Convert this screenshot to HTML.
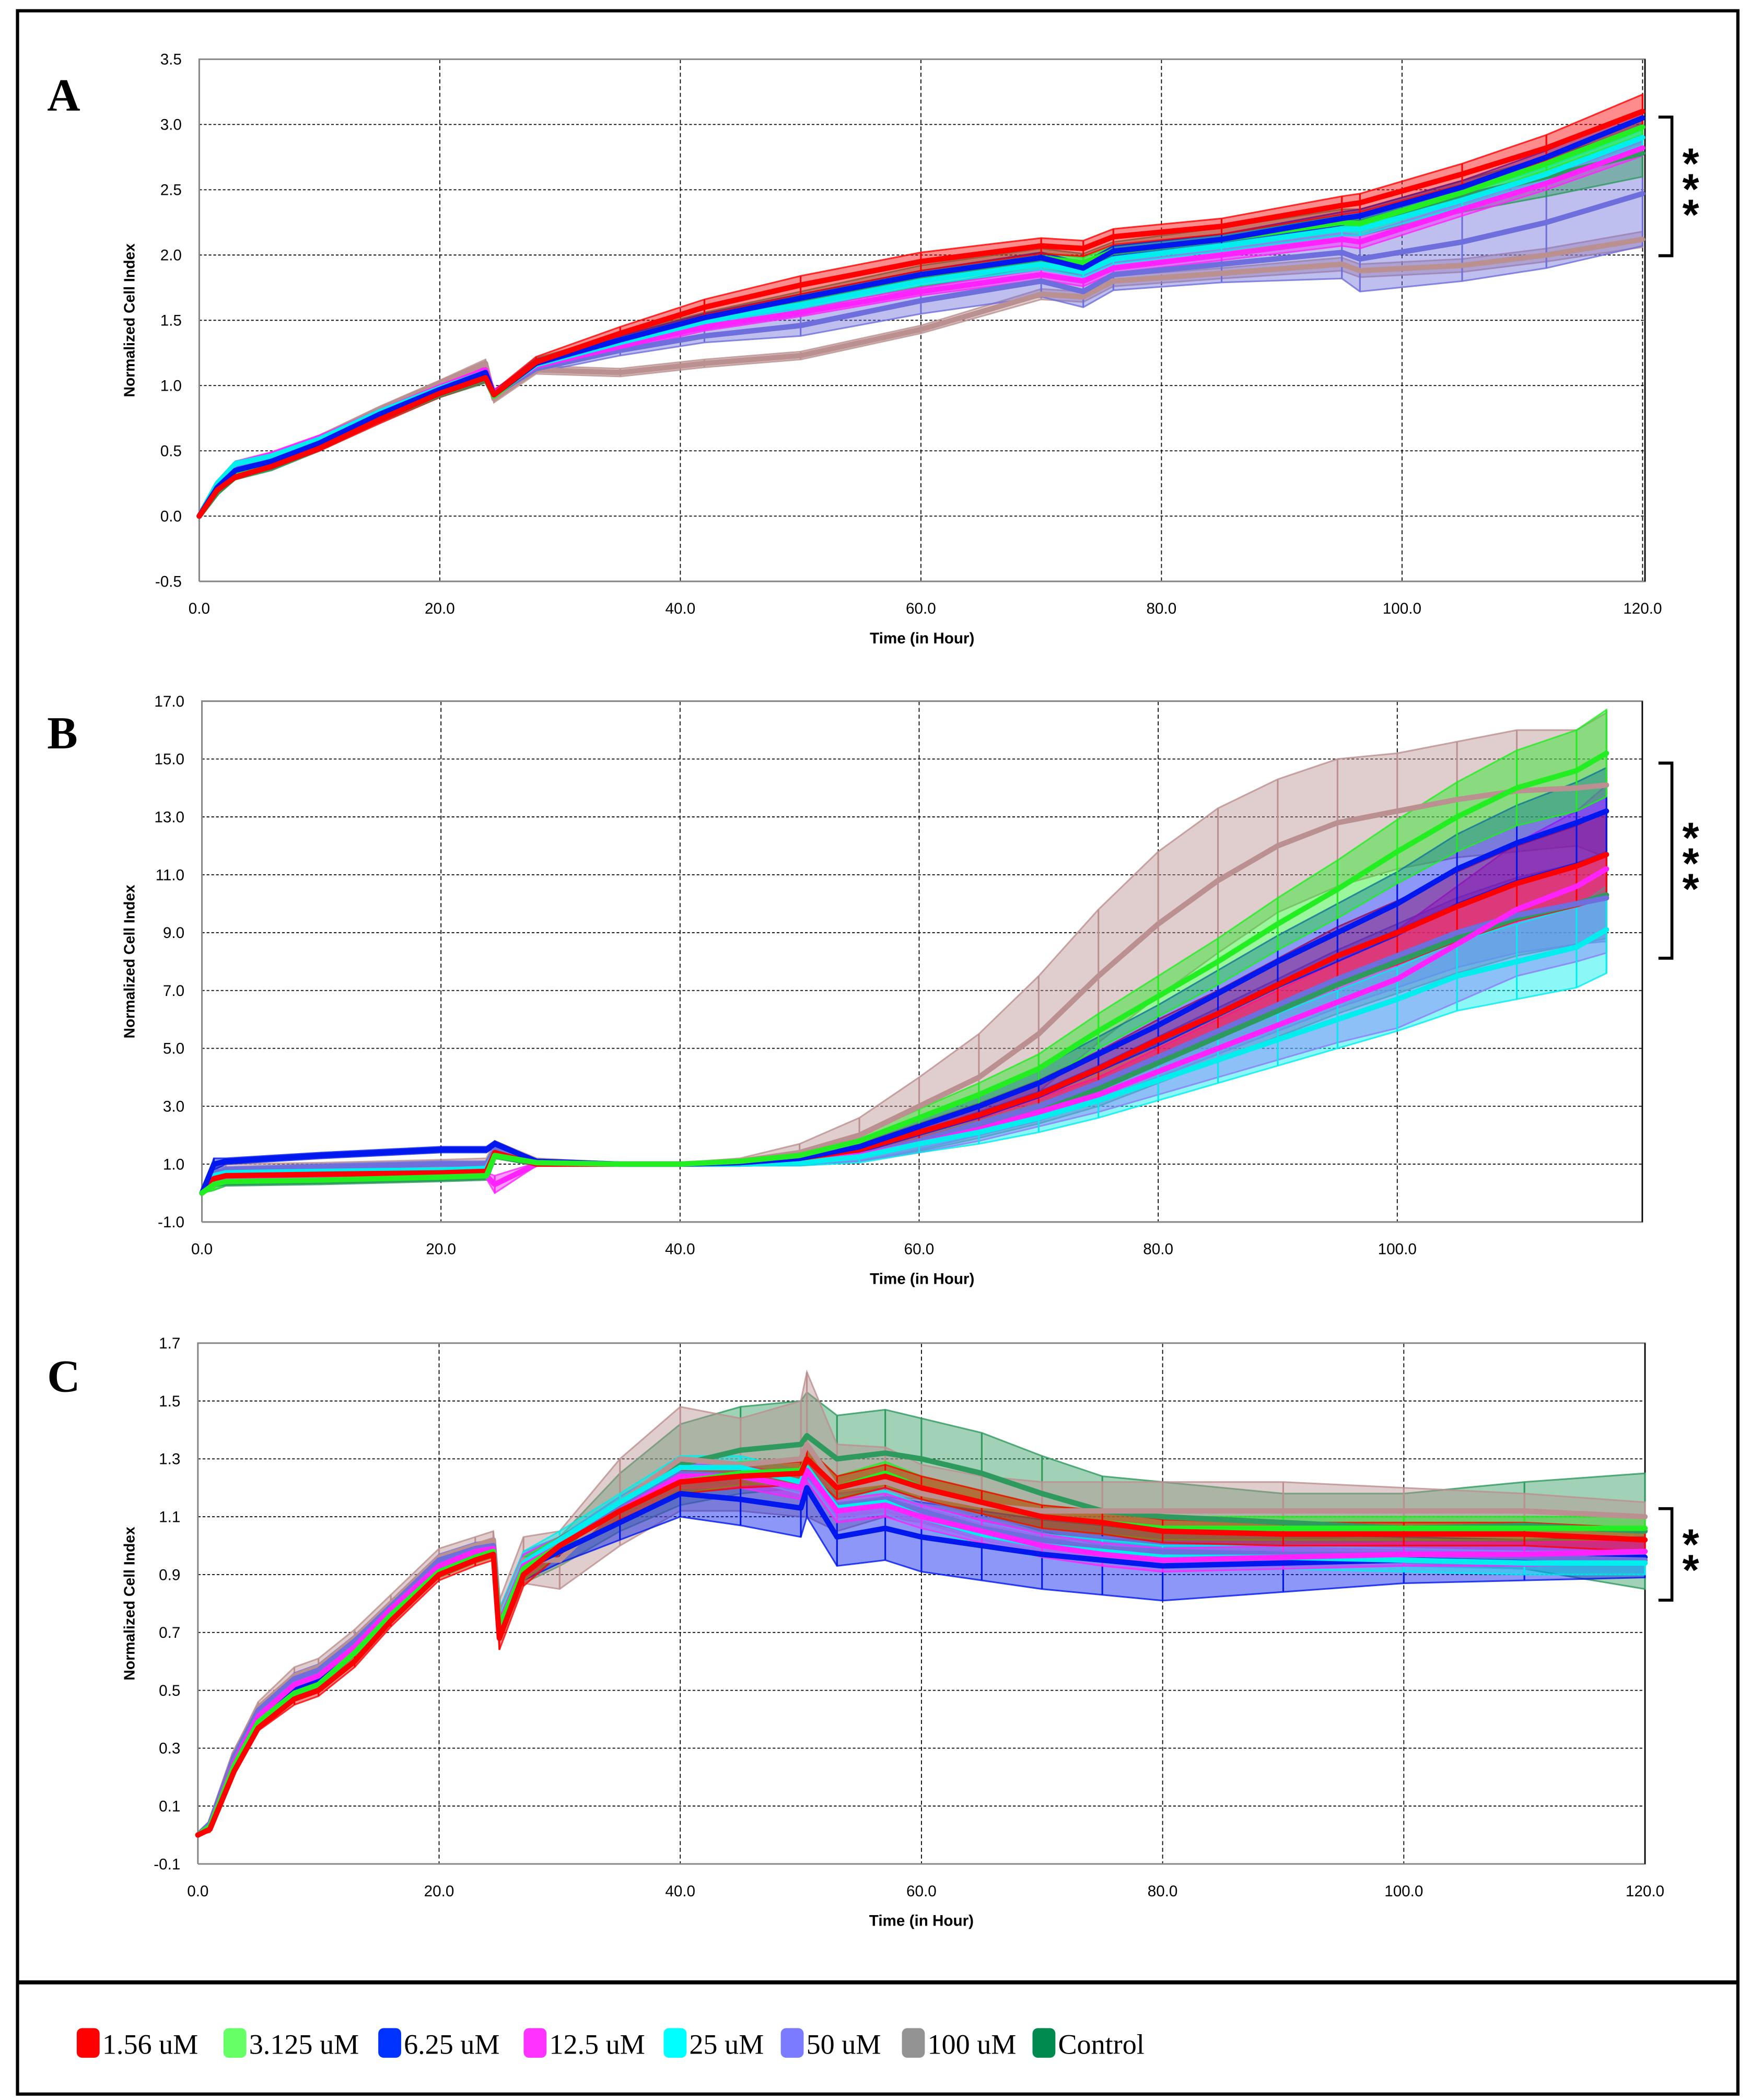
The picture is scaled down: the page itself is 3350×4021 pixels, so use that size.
<!DOCTYPE html>
<html><head><meta charset="utf-8"><style>
html,body{margin:0;padding:0;background:#fff;}
svg{display:block;}
</style></head><body>
<svg id="fig" width="3350" height="4021" viewBox="0 0 1300 1560.4" xmlns="http://www.w3.org/2000/svg">
<rect x="0" y="0" width="1300" height="1561" fill="#fff"/>
<rect x="13" y="8" width="1278" height="1548" fill="none" stroke="#000" stroke-width="2.4"/>
<line x1="13" y1="1473" x2="1291" y2="1473" stroke="#000" stroke-width="3"/>
<g id="panels"></g>
<g id="legend" font-family="Liberation Serif, serif" font-size="21"></g>
</svg>
<script>
// ---------- Panel A data ----------
const timesA=[0,1.5,3,6,10,15,20,23.8,24.5,28,35,42,50,60,70,73.5,76,85,95,96.5,105,112,120];
const A_red=[0,0.2,0.3,0.38,0.52,0.74,0.94,1.06,0.93,1.18,1.4,1.6,1.77,1.95,2.07,2.05,2.14,2.22,2.38,2.4,2.62,2.82,3.1];
const A_green=[0,0.2,0.32,0.4,0.54,0.76,0.95,1.07,0.92,1.17,1.35,1.52,1.67,1.85,1.98,1.94,2.03,2.12,2.25,2.24,2.48,2.7,2.98];
const A_blue=[0,0.22,0.35,0.42,0.56,0.78,0.97,1.1,0.93,1.17,1.35,1.52,1.67,1.85,1.98,1.9,2.03,2.12,2.28,2.3,2.52,2.75,3.05];
const A_mag=[0,0.25,0.4,0.47,0.6,0.8,0.99,1.12,0.94,1.15,1.3,1.45,1.56,1.72,1.85,1.8,1.9,2.0,2.12,2.1,2.35,2.55,2.82];
const A_cyan=[0,0.25,0.4,0.46,0.59,0.8,0.98,1.1,0.93,1.16,1.33,1.49,1.62,1.8,1.93,1.87,1.97,2.07,2.2,2.2,2.42,2.62,2.9];
const A_p50=[0,0.24,0.39,0.45,0.58,0.79,0.98,1.12,0.93,1.13,1.27,1.38,1.46,1.65,1.8,1.72,1.85,1.93,2.02,1.97,2.1,2.25,2.47];
const A_g100=[0,0.2,0.34,0.44,0.6,0.82,1.02,1.17,0.9,1.12,1.1,1.17,1.23,1.43,1.7,1.68,1.8,1.86,1.93,1.88,1.92,2.0,2.12];
const A_ctrl=[0,0.18,0.3,0.37,0.52,0.74,0.93,1.05,0.92,1.17,1.34,1.5,1.65,1.84,1.97,1.93,2.02,2.12,2.25,2.25,2.45,2.6,2.78];
const A_errRed=[0,0.01,0.02,0.02,0.02,0.03,0.03,0.03,0.03,0.04,0.05,0.06,0.07,0.07,0.06,0.06,0.06,0.06,0.07,0.07,0.08,0.1,0.13];
const A_errSmall=[0,0.01,0.02,0.02,0.02,0.02,0.02,0.03,0.03,0.03,0.03,0.03,0.03,0.03,0.04,0.04,0.04,0.04,0.05,0.05,0.05,0.05,0.06];
const A_errP50=[0,0.01,0.02,0.02,0.02,0.02,0.02,0.03,0.03,0.03,0.04,0.05,0.08,0.1,0.12,0.12,0.12,0.14,0.2,0.25,0.3,0.35,0.4];
const A_errCtrl=[0,0.01,0.02,0.02,0.02,0.02,0.02,0.03,0.03,0.04,0.05,0.06,0.07,0.08,0.08,0.08,0.08,0.09,0.1,0.1,0.12,0.15,0.18];
// ---------- Panel B data ----------
const timesB=[0,1,2,10,20,23.8,24.5,28,35,40,45,50,55,60,65,70,75,80,85,90,95,100,105,110,115,117.5];
const B_g100=[0,0.6,0.7,0.75,0.85,0.9,1.5,1.1,1.0,1.0,1.1,1.4,2.0,3.0,4.0,5.5,7.5,9.3,10.8,12.0,12.8,13.2,13.6,13.9,14.0,14.1];
const B_green=[0,0.3,0.4,0.45,0.55,0.6,1.3,1.05,1.0,1.0,1.1,1.3,1.8,2.6,3.4,4.3,5.6,6.8,8.0,9.3,10.5,11.8,13.0,14.0,14.6,15.2];
const B_blue=[0,1.0,1.1,1.3,1.5,1.5,1.7,1.1,1.0,1.0,1.05,1.2,1.6,2.3,3.0,3.8,4.8,5.8,6.9,8.0,9.0,10.0,11.2,12.1,12.8,13.2];
const B_red=[0,0.5,0.6,0.65,0.7,0.75,1.4,1.0,1.0,1.0,1.05,1.2,1.5,2.1,2.7,3.4,4.3,5.3,6.2,7.2,8.2,9.0,9.9,10.7,11.3,11.7];
const B_mag=[0,0.4,0.5,0.55,0.6,0.6,0.3,1.0,1.0,1.0,1.0,1.1,1.3,1.7,2.2,2.8,3.4,4.2,5.0,5.8,6.6,7.4,8.6,9.8,10.6,11.2];
const B_cyan=[0,0.6,0.7,0.75,0.8,0.85,1.4,1.0,1.0,1.0,1.0,1.05,1.25,1.7,2.1,2.6,3.2,3.9,4.6,5.3,6.0,6.7,7.5,8.0,8.5,9.1];
const B_p50=[0,0.7,0.8,0.9,1.0,1.0,1.5,1.05,1.0,1.0,1.0,1.05,1.3,1.8,2.4,3.0,3.8,4.7,5.6,6.5,7.4,8.2,9.0,9.6,10.0,10.2];
const B_ctrl=[0,0.3,0.35,0.4,0.5,0.55,1.3,1.0,1.0,1.0,1.0,1.05,1.3,1.75,2.3,2.9,3.6,4.5,5.4,6.3,7.2,8.0,8.8,9.5,10.0,10.3];
const B_errG100=[0,0.3,0.3,0.3,0.3,0.3,0.3,0.1,0.05,0.05,0.1,0.3,0.6,1.0,1.5,2.0,2.3,2.5,2.5,2.3,2.2,2.0,2.0,2.1,2.0,2.5];
const B_errMid=[0,0.2,0.1,0.1,0.1,0.1,0.1,0.05,0.05,0.05,0.05,0.1,0.2,0.3,0.4,0.5,0.6,0.7,0.8,0.9,1.0,1.1,1.2,1.3,1.4,1.5];
const B_errMag=[0,0.2,0.1,0.1,0.1,0.1,0.3,0.05,0.05,0.05,0.05,0.1,0.2,0.3,0.4,0.5,0.6,0.8,1.0,1.2,1.4,1.7,2.0,2.3,2.6,2.9];
// ---------- Panel C data ----------
const timesC=[0,1,3,5,8,10,13,16,20,23,24.5,25,27,30,35,40,45,50,50.5,53,57,60,65,70,75,80,90,100,110,120];
const C_red=[0,0.02,0.22,0.37,0.47,0.5,0.6,0.74,0.9,0.95,0.97,0.68,0.9,1.0,1.12,1.22,1.24,1.25,1.3,1.2,1.24,1.2,1.15,1.1,1.08,1.05,1.04,1.04,1.04,1.02];
const C_green=[0,0.03,0.24,0.39,0.49,0.52,0.63,0.76,0.91,0.96,0.98,0.72,0.92,1.0,1.12,1.22,1.25,1.26,1.3,1.2,1.25,1.2,1.15,1.1,1.08,1.06,1.06,1.06,1.06,1.06];
const C_blue=[0,0.03,0.25,0.4,0.5,0.53,0.64,0.77,0.92,0.97,0.98,0.72,0.92,0.98,1.08,1.18,1.16,1.13,1.2,1.03,1.06,1.03,1.0,0.97,0.95,0.93,0.94,0.95,0.95,0.96];
const C_mag=[0,0.03,0.25,0.41,0.52,0.55,0.65,0.78,0.93,0.98,0.99,0.73,0.93,1.0,1.12,1.24,1.24,1.2,1.26,1.12,1.14,1.1,1.05,1.0,0.97,0.95,0.96,0.97,0.97,0.98];
const C_cyan=[0,0.03,0.25,0.41,0.52,0.55,0.65,0.78,0.93,0.98,0.99,0.74,0.94,1.02,1.15,1.27,1.27,1.22,1.27,1.13,1.15,1.1,1.04,1.0,0.98,0.96,0.96,0.95,0.94,0.94];
const C_p50=[0,0.04,0.27,0.43,0.54,0.57,0.67,0.79,0.95,0.99,1.0,0.74,0.94,1.0,1.14,1.25,1.24,1.2,1.25,1.14,1.16,1.12,1.06,1.02,0.99,0.98,0.97,0.97,0.96,0.95];
const C_g100=[0,0.04,0.28,0.44,0.55,0.58,0.68,0.8,0.96,1.0,1.02,0.75,0.95,0.95,1.15,1.3,1.28,1.3,1.35,1.2,1.22,1.18,1.14,1.12,1.12,1.12,1.12,1.12,1.12,1.1];
const C_ctrl=[0,0.03,0.24,0.4,0.5,0.53,0.64,0.77,0.92,0.97,0.98,0.72,0.92,0.98,1.15,1.28,1.33,1.35,1.38,1.3,1.32,1.3,1.25,1.18,1.12,1.1,1.08,1.06,1.07,1.05];
const C_errSmall=[0,0.01,0.01,0.01,0.02,0.02,0.02,0.02,0.02,0.02,0.02,0.04,0.04,0.03,0.03,0.04,0.04,0.04,0.04,0.04,0.04,0.04,0.04,0.04,0.04,0.04,0.04,0.04,0.04,0.04];
const C_errBlue=[0,0.01,0.01,0.01,0.02,0.02,0.02,0.02,0.02,0.02,0.02,0.04,0.04,0.04,0.06,0.08,0.09,0.1,0.1,0.1,0.11,0.12,0.12,0.12,0.12,0.12,0.1,0.08,0.07,0.07];
const C_errCtrl=[0,0.01,0.01,0.01,0.02,0.02,0.02,0.02,0.02,0.02,0.02,0.05,0.05,0.05,0.1,0.14,0.15,0.15,0.15,0.15,0.15,0.14,0.14,0.13,0.12,0.12,0.1,0.12,0.15,0.2];
const C_errG100=[0,0.01,0.01,0.02,0.03,0.03,0.03,0.03,0.03,0.03,0.03,0.06,0.08,0.1,0.15,0.18,0.16,0.2,0.25,0.15,0.12,0.1,0.1,0.1,0.1,0.1,0.1,0.08,0.06,0.05];
// ---------- legend ----------
const legendLabels=["1.56 uM","3.125 uM","6.25 uM","12.5 uM","25 uM","50 uM","100 uM","Control"];
const legendColors=["#ff0000","#66ff66","#0033ff","#ff33ff","#00ffff","#7b7bff","#939393","#008a4f"];

const NS="http://www.w3.org/2000/svg";
function mk(tag,attrs,parent){const e=document.createElementNS(NS,tag);for(const k in attrs)e.setAttribute(k,attrs[k]);parent.appendChild(e);return e;}

const seriesColor={red:"#ff0000",green:"#22ee22",blue:"#0018ee",mag:"#ff22ff",cyan:"#00eeee",p50:"#6e6edc",g100:"#bb9090",ctrl:"#2e9a5e"};

const panels=[
 {id:"a",letter:"A",l:148,r:1222,t:44,b:432,xmax:120.2,ymin:-0.5,ymax:3.5,ystep:0.5,dec:1,xticks:[0,20,40,60,80,100,120],times:timesA,
  series:[["g100",A_g100,A_errSmall],["p50",A_p50,A_errP50],["ctrl",A_ctrl,A_errCtrl],["mag",A_mag,A_errSmall],["cyan",A_cyan,A_errSmall],["green",A_green,A_errSmall],["blue",A_blue,A_errSmall],["red",A_red,A_errRed]],
  bracket:[87,190],stars:"***",ly:82},
 {id:"b",letter:"B",l:150,r:1220,t:521,b:908,xmax:120.5,ymin:-1,ymax:17,ystep:2,dec:1,xticks:[0,20,40,60,80,100],times:timesB,
  series:[["g100",B_g100,B_errG100],["ctrl",B_ctrl,B_errMid],["p50",B_p50,B_errMid],["mag",B_mag,B_errMag],["cyan",B_cyan,B_errMid],["red",B_red,B_errMid],["blue",B_blue,B_errMid],["green",B_green,B_errMid]],
  bracket:[567,712],stars:"***",ly:556},
 {id:"c",letter:"C",l:147,r:1222,t:998,b:1385,xmax:120,ymin:-0.1,ymax:1.7,ystep:0.2,dec:1,xticks:[0,20,40,60,80,100,120],times:timesC,
  series:[["ctrl",C_ctrl,C_errCtrl],["g100",C_g100,C_errG100],["blue",C_blue,C_errBlue],["p50",C_p50,C_errSmall],["cyan",C_cyan,C_errSmall],["mag",C_mag,C_errSmall],["green",C_green,C_errSmall],["red",C_red,C_errSmall]],
  bracket:[1121,1189],stars:"**",ly:1034}
];

const root=document.getElementById('panels');
panels.forEach(p=>{
 const g=mk('g',{},root);
 
 
 const X=v=>p.l+(v/p.xmax)*(p.r-p.l);
 const Y=v=>p.b-(v-p.ymin)/(p.ymax-p.ymin)*(p.b-p.t);
 const lt=mk('text',{x:35,y:p.ly,'font-family':'Liberation Serif, serif','font-weight':'bold','font-size':34},g);
 lt.textContent=p.letter;
 
 
 const n=Math.round((p.ymax-p.ymin)/p.ystep);
 for(let i=0;i<=n;i++){
  const v=p.ymin+i*p.ystep;const y=Y(v);
  if(i>0&&i<n){const gl=mk('line',{x1:p.l,x2:p.r,y1:y,y2:y,stroke:'#000','stroke-width':0.7,'stroke-dasharray':'2,1.5'},g);
   }
  const t=mk('text',{x:p.l-13,y:y+4,'text-anchor':'end','font-family':'Liberation Sans, sans-serif','font-size':11.5},g);
  t.textContent=v.toFixed(p.dec);
  
 }
 p.xticks.forEach(v=>{
  const x=X(v);
  if(v>0){const gl=mk('line',{x1:x,x2:x,y1:p.t,y2:p.b,stroke:'#000','stroke-width':0.7,'stroke-dasharray':'3,2'},g);
   }
  const t=mk('text',{x:x,y:p.b+24,'text-anchor':'middle','font-family':'Liberation Sans, sans-serif','font-size':11.5},g);
  t.textContent=v.toFixed(1);
  
 });
 const frame=mk('path',{d:`M${p.l},${p.b}V${p.t}H${p.r}V${p.b}H${p.l}`,fill:'none',stroke:'#888','stroke-width':1.2},g);
 
 const rl=mk('line',{x1:p.r,x2:p.r,y1:p.t,y2:p.b,stroke:'#000','stroke-width':1},g);
 
 const xt=mk('text',{x:(p.l+p.r)/2,y:p.b+46,'text-anchor':'middle','font-family':'Liberation Sans, sans-serif','font-weight':'bold','font-size':11.5},g);
 xt.textContent='Time (in Hour)';
 
 const ymid=(p.t+p.b)/2;
 const yt=mk('text',{x:100,y:ymid,transform:`rotate(-90 100 ${ymid})`,'text-anchor':'middle','font-family':'Liberation Sans, sans-serif','font-weight':'bold','font-size':11},g);
 yt.textContent='Normalized Cell Index';
 
 p.series.forEach(([key,vals,err])=>{
  const up=vals.map((v,i)=>X(p.times[i])+','+Y(v+err[i]));
  const dn=vals.map((v,i)=>X(p.times[i])+','+Y(v-err[i])).reverse();
  const band=mk('polygon',{points:up.concat(dn).join(' '),fill:seriesColor[key],'fill-opacity':0.45,stroke:seriesColor[key],'stroke-width':1.2,'stroke-opacity':0.8},g);
  
  vals.forEach((v,i)=>{
   const x=X(p.times[i]);
   const eb=mk('line',{x1:x,x2:x,y1:Y(v-err[i]),y2:Y(v+err[i]),stroke:seriesColor[key],'stroke-width':1.2},g);
   
  });
 });
 p.series.forEach(([key,vals])=>{
  const pts=vals.map((v,i)=>X(p.times[i])+','+Y(v)).join(' ');
  const pl=mk('polyline',{points:pts,fill:'none',stroke:seriesColor[key],'stroke-width':4,'stroke-linejoin':'round','stroke-linecap':'round'},g);
  
 });
 const [b0,b1]=p.bracket;
 const br=mk('path',{d:`M1232,${b0}H1242V${b1}H1232`,fill:'none',stroke:'#000','stroke-width':2.2},g);
 
 const sm=(b0+b1)/2; const nst=p.stars.length;
 for(let i=0;i<nst;i++){
  const s=mk('text',{x:1256,y:sm+(i-(nst-1)/2)*19+13,'text-anchor':'middle','font-family':'Liberation Sans, sans-serif','font-weight':'bold','font-size':32},g);
  s.textContent='*';
  
 }
});

const lg=document.getElementById('legend');
const legendX=[57,166,281,389,493,580,670,767];
legendLabels.forEach((lab,i)=>{
 const lx=legendX[i];
 const it=mk('g',{},lg);
 
 
 const sw=mk('rect',{x:lx,y:1507,width:17,height:22,rx:4,fill:legendColors[i]},it);
 
 const t=mk('text',{x:lx+19,y:1526},it);
 t.textContent=lab;
 
});
</script>
</body></html>
